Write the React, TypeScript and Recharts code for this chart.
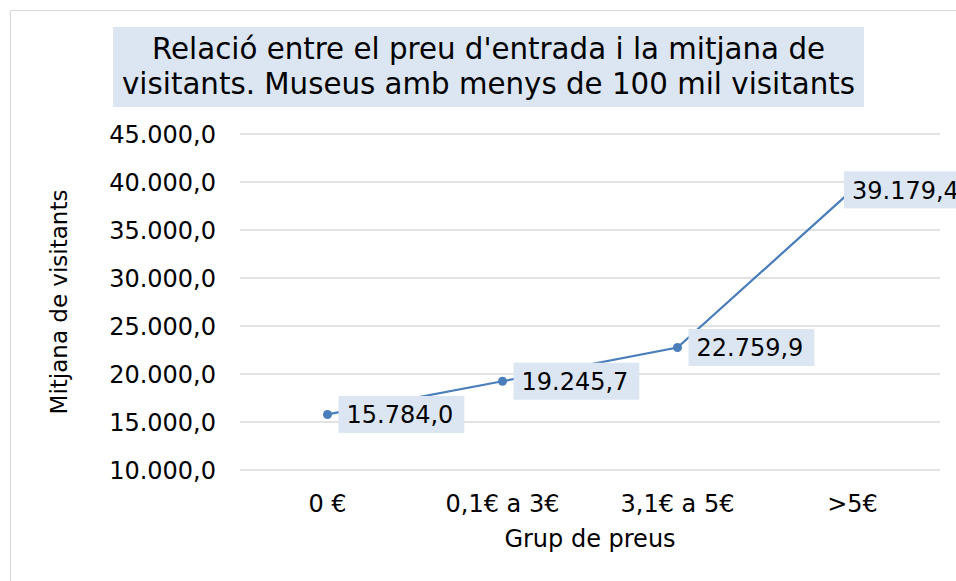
import React from 'react';

import { CartesianGrid, LabelList, Line, LineChart, XAxis, YAxis } from 'recharts';

const categories = ['0 €', '0,1€ a 3€', '3,1€ a 5€', '>5€'];
const visitants = [15784.0, 19245.7, 22759.9, 39179.4];
const yTicks = [10000, 15000, 20000, 25000, 30000, 35000, 40000, 45000];

const data = categories.map((grup, i) => ({ grup, visitants: visitants[i] }));

const FONT = '"DejaVu Sans", Verdana, sans-serif';
const BLUE = '#4a7ebb';
const BOX = '#dce6f2';

// 45000 -> "45.000,0"
function fmt(v: number) {
  const [int, dec] = v.toFixed(1).split('.');
  return int.replace(/\B(?=(\d{3})+(?!\d))/g, '.') + ',' + dec;
}

// rough advance width in em for the digits/punctuation we print
function textEm(s: string) {
  let w = 0;
  for (const c of s) w += c === '.' || c === ',' ? 0.318 : 0.636;
  return w;
}

function ValueLabel(props: any) {
  const { x, y, value, index } = props;
  const text = fmt(Number(value));
  const w = textEm(text) * 24 + 19;
  const h = 37;
  // last label gets pushed back against the chart edge, like in Excel
  const bx = index === visitants.length - 1 ? x - 8.5 : x + 11;
  return (
    <g>
      <rect x={bx} y={y - h / 2} width={w} height={h} fill={BOX} />
      <text x={bx + 8} y={y} dy="0.36em" fontSize={24} fontFamily={FONT} fill="#000">
        {text}
      </text>
    </g>
  );
}

function XTitle({ viewBox }: any) {
  const vb = viewBox || { x: 232, y: 462, width: 700 };
  return (
    <text x={vb.x + vb.width / 2} y={vb.y + 68} dy="0.355em" textAnchor="middle" fontSize={24} fontFamily={FONT} fill="#000">
      Grup de preus
    </text>
  );
}

function YTitle({ viewBox }: any) {
  const vb = viewBox || { x: 0, y: 126, height: 336 };
  const cx = 50.5;
  const cy = vb.y + vb.height / 2;
  return (
    <text x={cx} y={cy} dy="0.355em" textAnchor="middle" transform={`rotate(-90 ${cx} ${cy})`} fontSize={23} fontFamily={FONT} fill="#000">
      Mitjana de visitants
    </text>
  );
}

export default function App() {
  // fixed so the chart can run off the right/bottom edge without scrollbars
  return (
    <div style={{ position: 'fixed', left: 0, top: 0, width: 956, height: 581, overflow: 'hidden', fontFamily: FONT, background: '#fff' }}>
      <div
        style={{
          position: 'absolute',
          left: 10,
          top: 10,
          width: 2000,
          height: 2000,
          border: '1px solid #d9d9d9',
          background: '#fff',
        }}
      />
      <div style={{ position: 'absolute', left: 8, top: 8 }}>
        <LineChart width={1000} height={573} data={data} margin={{ top: 126, right: 68, bottom: 0, left: 0 }}>
          <CartesianGrid vertical={false} stroke="#d9d9d9" strokeWidth={1.5} />
          <XAxis
            dataKey="grup"
            scale="band"
            axisLine={false}
            tickLine={false}
            tickSize={0}
            tickMargin={25}
            height={111}
            tick={{ fontSize: 24, fontFamily: FONT, fill: '#000' }}
            label={<XTitle />}
          />
          <YAxis
            domain={[10000, 45000]}
            ticks={yTicks}
            tickFormatter={fmt}
            axisLine={false}
            tickLine={false}
            tickSize={0}
            tickMargin={24}
            width={232}
            tick={{ fontSize: 24, fontFamily: FONT, fill: '#000' }}
            label={<YTitle />}
          />
          <Line
            dataKey="visitants"
            stroke={BLUE}
            strokeWidth={2.25}
            dot={{ r: 4.5, fill: BLUE, stroke: BLUE, strokeWidth: 0 }}
            activeDot={false}
            isAnimationActive={false}
          >
            <LabelList dataKey="visitants" content={<ValueLabel />} />
          </Line>
        </LineChart>
      </div>
      <div
        style={{
          position: 'absolute',
          left: 113,
          top: 27,
          width: 751,
          height: 80,
          boxSizing: 'border-box',
          paddingTop: 5,
          background: BOX,
          textAlign: 'center',
          fontSize: 29.3,
          lineHeight: '35px',
          color: '#000',
        }}
      >
        Relació entre el preu d'entrada i la mitjana de
        <br />
        visitants. Museus amb menys de 100 mil visitants
      </div>
    </div>
  );
}
